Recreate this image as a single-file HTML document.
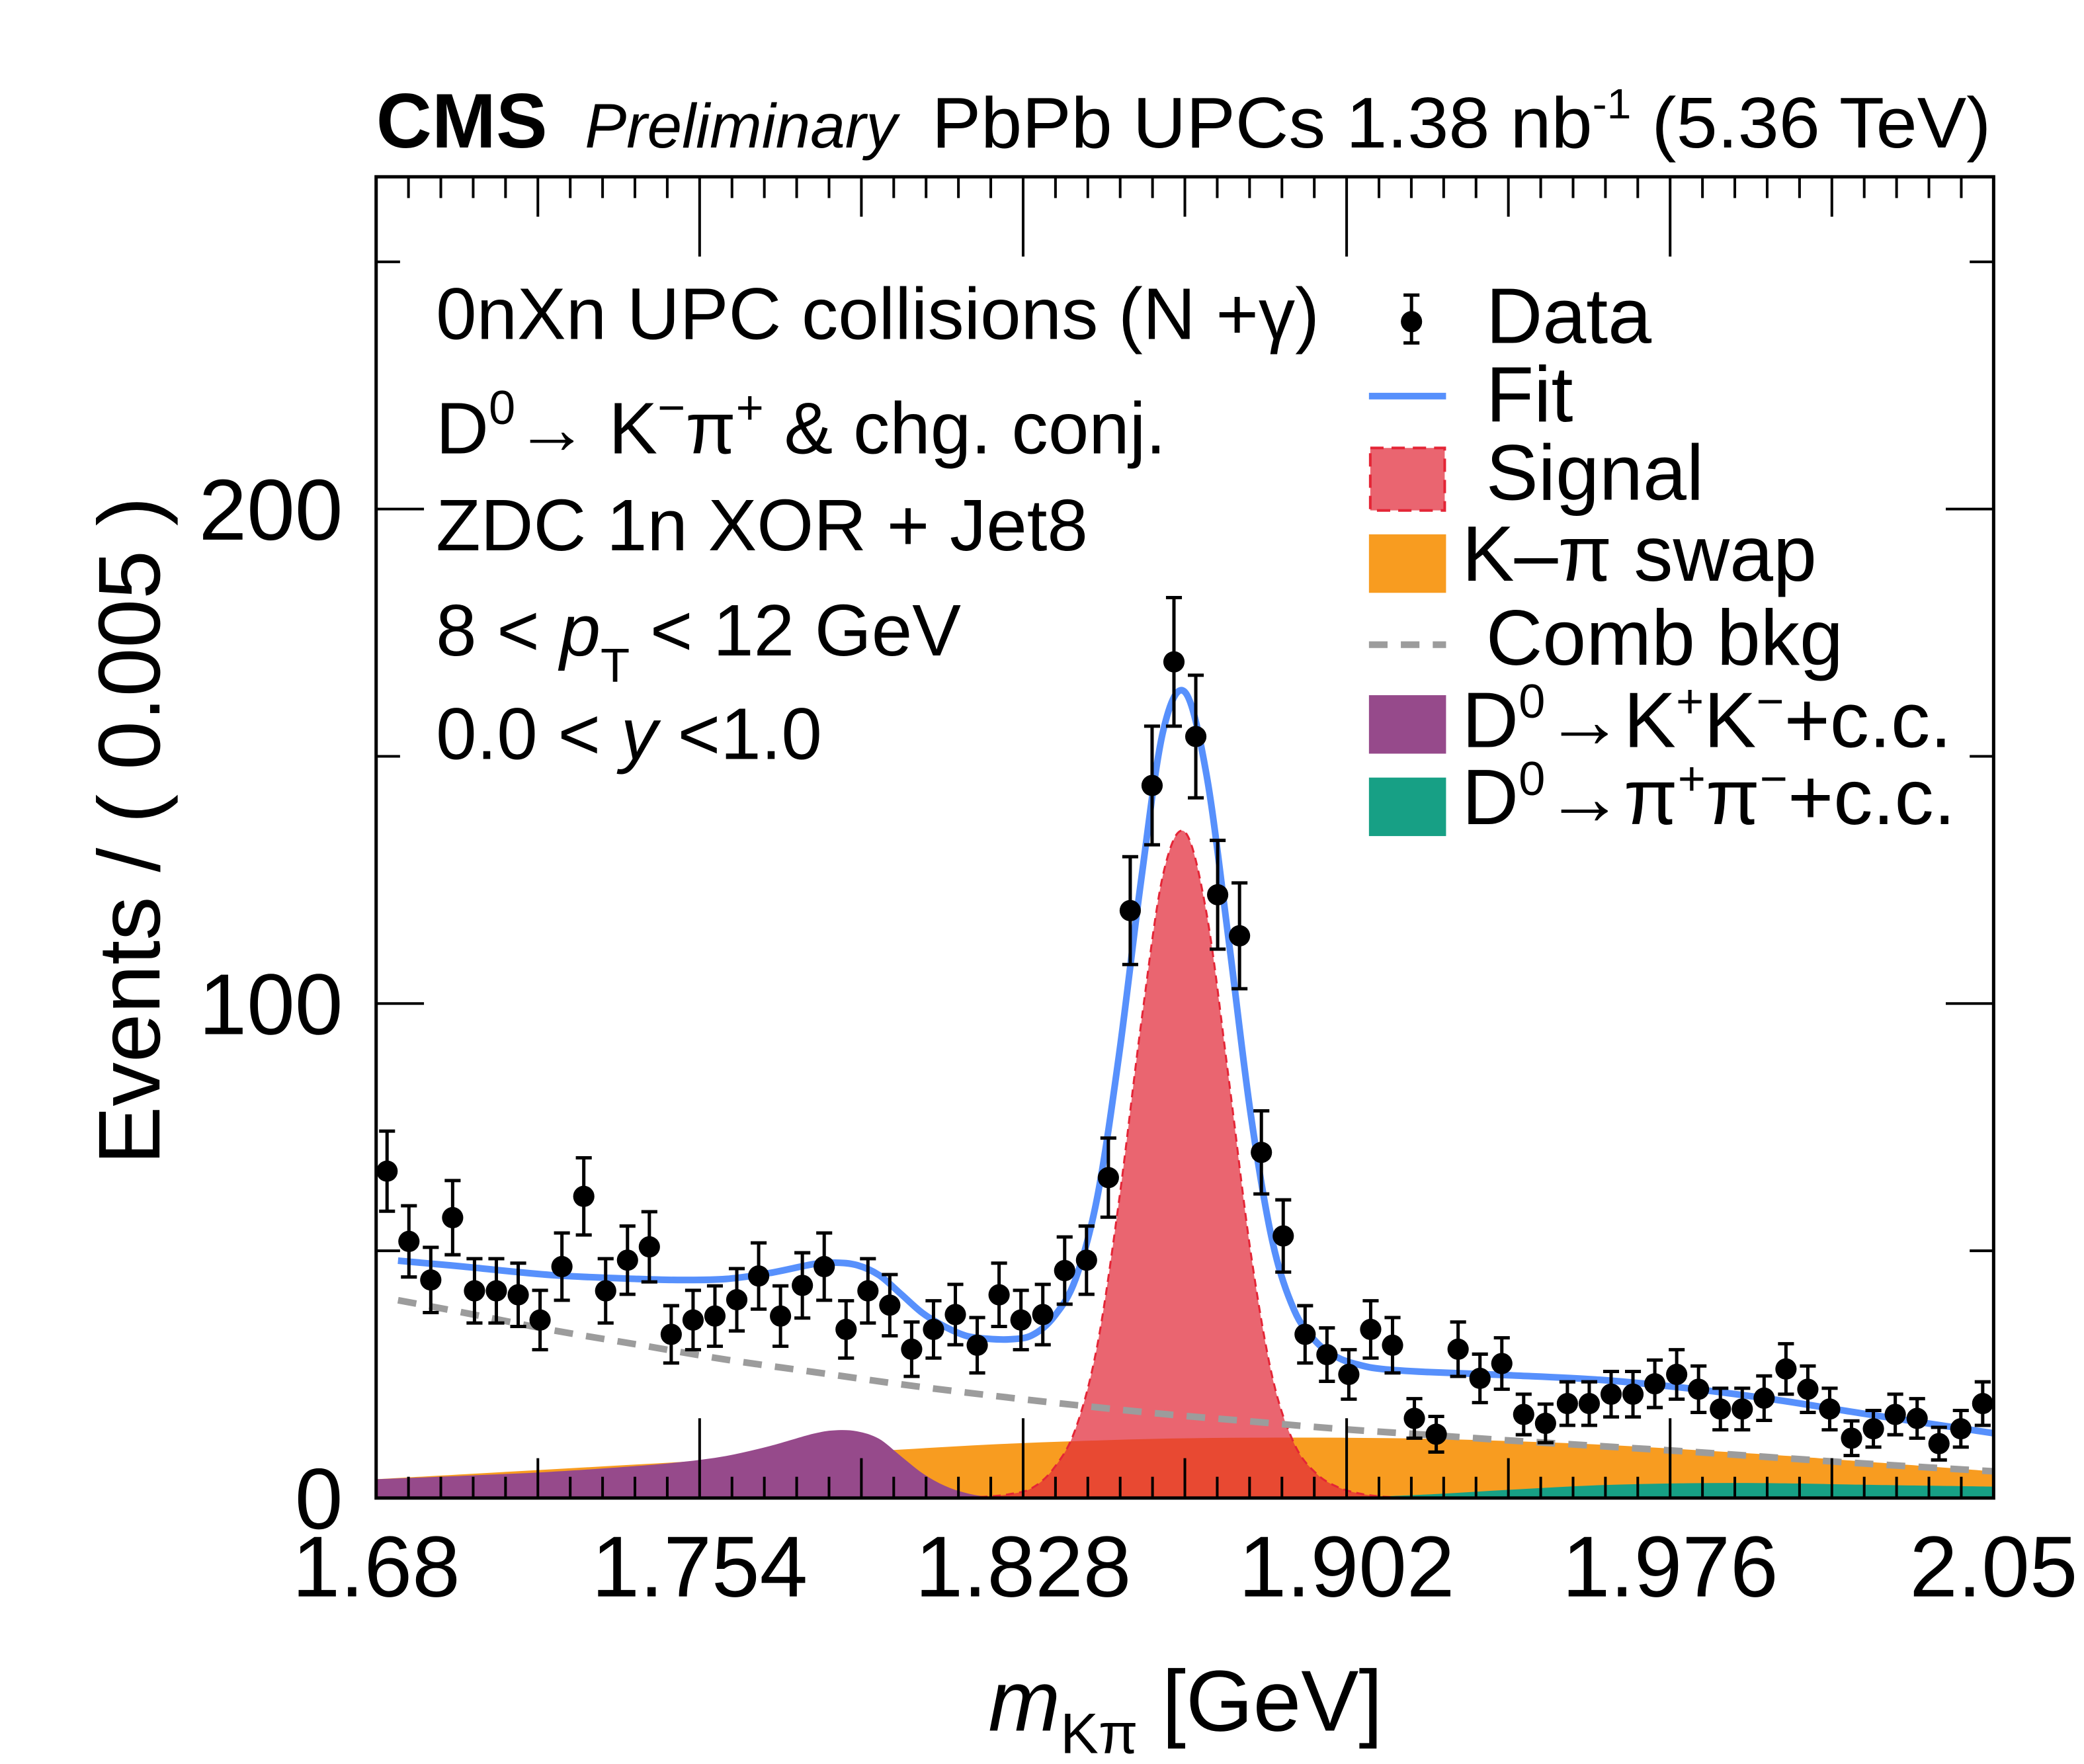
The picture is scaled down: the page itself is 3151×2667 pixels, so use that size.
<!DOCTYPE html>
<html><head><meta charset="utf-8"><style>
html,body{margin:0;padding:0;background:#fff}
svg{display:block}
text{font-family:"Liberation Sans",sans-serif;fill:#000}
</style></head><body>
<svg id="chart" xmlns="http://www.w3.org/2000/svg" width="3151" height="2667" viewBox="0 0 1568 1327.1" preserveAspectRatio="none">
<rect width="1568" height="1327.1" fill="#fff"/>
<g id="fills"></g>
<g id="lines"></g>
<g id="points"></g>
<g id="axes"></g>
<text x="283" y="111" font-size="58" font-weight="bold">CMS</text>
<text x="440" y="111" font-size="47" font-style="italic">Preliminary</text>
<text x="1498" y="111" font-size="54" text-anchor="end" textLength="797" lengthAdjust="spacingAndGlyphs">PbPb UPCs 1.38 nb<tspan dy="-22" font-size="32">-1</tspan><tspan dy="22"> (5.36 TeV)</tspan></text>
<g font-size="55">
<text x="328" y="255">0nXn UPC collisions (N +γ)</text>
<text x="328" y="341">D<tspan dy="-22" font-size="36">0</tspan><tspan dy="22">→ K</tspan><tspan dy="-22" font-size="36">−</tspan><tspan dy="22">π</tspan><tspan dy="-22" font-size="36">+</tspan><tspan dy="22"> &amp; chg. conj.</tspan></text>
<text x="328" y="414">ZDC 1n XOR + Jet8</text>
<text x="328" y="493">8 &lt; <tspan font-style="italic">p</tspan><tspan dy="20" font-size="36">T</tspan><tspan dy="-20"> &lt; 12 GeV</tspan></text>
<text x="328" y="571">0.0 &lt; <tspan font-style="italic">y</tspan> &lt;1.0</text>
</g>
<g font-size="59">
<g><line x1="1062" y1="222" x2="1062" y2="258" stroke="#000" stroke-width="2.5"/><line x1="1056" y1="222" x2="1068" y2="222" stroke="#000" stroke-width="2.5"/><line x1="1056" y1="258" x2="1068" y2="258" stroke="#000" stroke-width="2.5"/><circle cx="1062" cy="242" r="8" fill="#000"/><text x="1118" y="258">Data</text></g>
<g><line x1="1030" y1="298" x2="1088" y2="298" stroke="#5790fc" stroke-width="5"/><text x="1118" y="317">Fit</text></g>
<g><rect x="1031" y="337" width="56" height="47" fill="rgb(226,42,57)" fill-opacity="0.72" stroke="#e42536" stroke-width="2" stroke-dasharray="10,6"/><text x="1118" y="376">Signal</text></g>
<g><rect x="1030" y="402" width="58" height="44" fill="#f89c20"/><text x="1100" y="437">K–π swap</text></g>
<g><line x1="1030" y1="485" x2="1088" y2="485" stroke="#9c9c9c" stroke-width="5" stroke-dasharray="14,10"/><text x="1118" y="500">Comb bkg</text></g>
<g><rect x="1030" y="523" width="58" height="44" fill="#964a8b"/><text x="1100" y="562">D<tspan dy="-22" font-size="36">0</tspan><tspan dy="22">→K</tspan><tspan dy="-22" font-size="36">+</tspan><tspan dy="22">K</tspan><tspan dy="-22" font-size="36">−</tspan><tspan dy="22">+c.c.</tspan></text></g>
<g><rect x="1030" y="585" width="58" height="44" fill="#17a085"/><text x="1100" y="620">D<tspan dy="-22" font-size="36">0</tspan><tspan dy="22">→π</tspan><tspan dy="-22" font-size="36">+</tspan><tspan dy="22">π</tspan><tspan dy="-22" font-size="36">−</tspan><tspan dy="22">+c.c.</tspan></text></g>
</g>
<text transform="translate(120,625) rotate(-90)" font-size="66" text-anchor="middle">Events / ( 0.005 )</text>
<text x="892" y="1302" font-size="65" text-anchor="middle"><tspan font-style="italic">m</tspan><tspan dy="17" font-size="43">Kπ</tspan><tspan dy="-17"> [GeV]</tspan></text>
</svg>
<script>
const xCenters0 = 1.6825, binW = 0.005;
const dataY = [66.1,51.9,44.1,56.7,41.9,41.9,41.1,36.0,46.8,61.0,41.9,48.1,50.8,33.1,36.0,36.8,40.1,44.9,36.8,43.0,46.8,34.1,41.9,39.0,30.1,34.1,37.1,30.9,41.1,36.0,37.1,46.0,48.1,64.8,118.8,144.1,169.1,154.0,122.0,113.7,69.9,53.0,33.1,29.0,25.0,34.1,30.9,16.1,12.9,30.1,24.2,27.2,16.9,15.1,19.1,19.1,21.0,21.0,23.1,25.0,22.0,18.0,18.0,20.2,26.1,22.0,18.0,12.1,14.0,16.9,16.1,11.0,14.0,19.1];
const dataErr = [8.1,7.2,6.6,7.5,6.5,6.5,6.4,6.0,6.8,7.8,6.5,6.9,7.1,5.8,6.0,6.1,6.3,6.7,6.1,6.6,6.8,5.8,6.5,6.2,5.5,5.8,6.1,5.6,6.4,6.0,6.1,6.8,6.9,8.0,10.9,12.0,13.0,12.4,11.0,10.7,8.4,7.3,5.8,5.4,5.0,5.8,5.6,4.0,3.6,5.5,4.9,5.2,4.1,3.9,4.4,4.4,4.6,4.6,4.8,5.0,4.7,4.2,4.2,4.5,5.1,4.7,4.2,3.5,3.7,4.1,4.0,3.3,3.7,4.4];
const fitX = [1.685,1.70,1.72,1.74,1.75,1.76,1.77,1.78,1.785,1.79,1.795,1.80,1.805,1.81,1.815,1.82,1.825,1.83,1.835,1.84,1.845,1.85,1.855,1.86,1.865,1.87,1.875,1.88,1.885,1.89,1.895,1.90,1.905,1.91,1.92,1.94,1.96,1.98,2.00,2.02,2.05];
const fitY = [48,46.8,45.1,44.3,44.1,44.3,45.5,47.3,47.6,47.1,45.1,41.3,37.4,34.7,32.8,32.2,32.1,32.9,36.6,44.3,61,90,125,155,163,146,113,78,52,38,31.6,28.4,26.9,26.1,25.5,24.8,23.9,22.2,19.9,17.1,13.1];
const sigX = [1.815,1.82,1.825,1.83,1.835,1.84,1.845,1.85,1.855,1.86,1.865,1.87,1.875,1.88,1.885,1.89,1.895,1.90,1.905,1.91,1.915];
const sigY = [0.1,0.3,0.8,2,6,14,31,60.5,96,126,134.7,118,85,50,24.5,11,5,2.2,0.9,0.3,0.1];
const combX = [1.685,1.70,1.72,1.74,1.76,1.78,1.80,1.82,1.84,1.86,1.88,1.90,1.92,1.94,1.96,1.98,2.00,2.02,2.05];
const combY = [40,37.5,34,31,28,25.5,23,20.8,18.8,17,15.5,14,12.8,11.6,10.5,9.4,8.2,7,5.4];
const swapX = [1.68,1.70,1.72,1.74,1.76,1.78,1.80,1.82,1.84,1.86,1.88,1.90,1.92,1.94,1.96,1.98,2.00,2.02,2.05];
const swapY = [3.8,4.8,5.8,6.8,7.8,8.8,9.8,10.8,11.5,12,12.2,12.2,12,11.5,10.8,9.8,8.7,7.4,5.4];
const kkX = [1.68,1.70,1.72,1.74,1.75,1.76,1.77,1.78,1.785,1.79,1.795,1.80,1.805,1.81,1.815,1.82,1.83];
const kkY = [3.8,4.5,5.3,6.5,7.3,8.5,10.5,13,13.7,13.5,12,8.5,5,2.5,1,0.3,0];
const pipiX = [1.90,1.92,1.94,1.96,1.98,2.00,2.02,2.05];
const pipiY = [0,0.7,1.7,2.6,3,3,2.7,2.3];
const xTickLabels = ["1.68","1.754","1.828","1.902","1.976","2.05"];
const yTickLabels = ["0","100","200"];

const X0=283,X1=1500,YT=133,YB=1127, XMIN=1.68,XMAX=2.05,YMAX=267.2;
const NS="http://www.w3.org/2000/svg";
function sx(v){return X0+(v-XMIN)/(XMAX-XMIN)*(X1-X0);}
function sy(v){return YB-v/YMAX*(YB-YT);}
function mk(tag,attrs,parent){const e=document.createElementNS(NS,tag);for(const k in attrs)e.setAttribute(k,attrs[k]);parent.appendChild(e);return e;}
function smooth(xs,ys){
  const p=xs.map((x,i)=>[sx(x),sy(ys[i])]);
  let d="M"+p[0][0].toFixed(2)+","+p[0][1].toFixed(2);
  for(let i=0;i<p.length-1;i++){
    const a=p[Math.max(i-1,0)],b=p[i],c=p[i+1],e=p[Math.min(i+2,p.length-1)];
    const c1=[b[0]+(c[0]-a[0])/6,b[1]+(c[1]-a[1])/6],c2=[c[0]-(e[0]-b[0])/6,c[1]-(e[1]-b[1])/6];
    d+=" C"+c1.map(v=>v.toFixed(2))+" "+c2.map(v=>v.toFixed(2))+" "+c[0].toFixed(2)+","+c[1].toFixed(2);
  }
  return d;
}
function area(xs,ys){return smooth(xs,ys)+" L"+sx(xs[xs.length-1]).toFixed(2)+","+YB+" L"+sx(xs[0]).toFixed(2)+","+YB+" Z";}
const F=document.getElementById('fills'),L=document.getElementById('lines'),P=document.getElementById('points'),A=document.getElementById('axes');

const swap=mk('path',{d:area(swapX,swapY),fill:'#f89c20'},F);


const kk=mk('path',{d:area(kkX,kkY),fill:'#964a8b'},F);


const pp=mk('path',{d:area(pipiX,pipiY),fill:'#17a085'},F);


const sig=mk('path',{d:area(sigX,sigY),fill:'rgb(226,42,57)','fill-opacity':0.72,stroke:'#e42536','stroke-width':1.5,'stroke-dasharray':'6,4'},F);


const comb=mk('path',{d:smooth(combX,combY),fill:'none',stroke:'#9c9c9c','stroke-width':5,'stroke-dasharray':'14,10'},L);


const fit=mk('path',{d:smooth(fitX,fitY),fill:'none',stroke:'#5790fc','stroke-width':5},L);



dataY.forEach((v,i)=>{
  const x=sx(xCenters0+i*binW),e=dataErr[i];
  const g=mk('g',{},P);
  
  
  mk('line',{x1:x,x2:x,y1:sy(v+e),y2:sy(v-e),stroke:'#000','stroke-width':2.5},g);
  mk('line',{x1:x-6,x2:x+6,y1:sy(v+e),y2:sy(v+e),stroke:'#000','stroke-width':2.5},g);
  mk('line',{x1:x-6,x2:x+6,y1:sy(v-e),y2:sy(v-e),stroke:'#000','stroke-width':2.5},g);
  mk('circle',{cx:x,cy:sy(v),r:8,fill:'#000'},g);
});

const frame=mk('rect',{x:X0,y:YT,width:X1-X0,height:YB-YT,fill:'none',stroke:'#000','stroke-width':2.5},A);


for(let i=0;i<=50;i++){
  const x=X0+i*(X1-X0)/50;
  const len=i%10===0?60:(i%5===0?30:16);
  mk('line',{x1:x,x2:x,y1:YB,y2:YB-len,stroke:'#000','stroke-width':2},A);
  mk('line',{x1:x,x2:x,y1:YT,y2:YT+len,stroke:'#000','stroke-width':2},A);
}
xTickLabels.forEach((t,i)=>{
  const tx=mk('text',{x:X0+i*(X1-X0)/5,y:1201,'font-size':65,'text-anchor':'middle'},A);
  
  
  tx.textContent=t;
});
for(let v=0;v<=250;v+=50){
  const y=sy(v),len=v%100===0?36:18;
  mk('line',{x1:X0,x2:X0+len,y1:y,y2:y,stroke:'#000','stroke-width':2},A);
  mk('line',{x1:X1,x2:X1-len,y1:y,y2:y,stroke:'#000','stroke-width':2},A);
}
yTickLabels.forEach(t=>{
  const tx=mk('text',{x:258,y:sy(+t)+23,'font-size':65,'text-anchor':'end'},A);
  
  
  tx.textContent=t;
});
</script>
</body></html>
